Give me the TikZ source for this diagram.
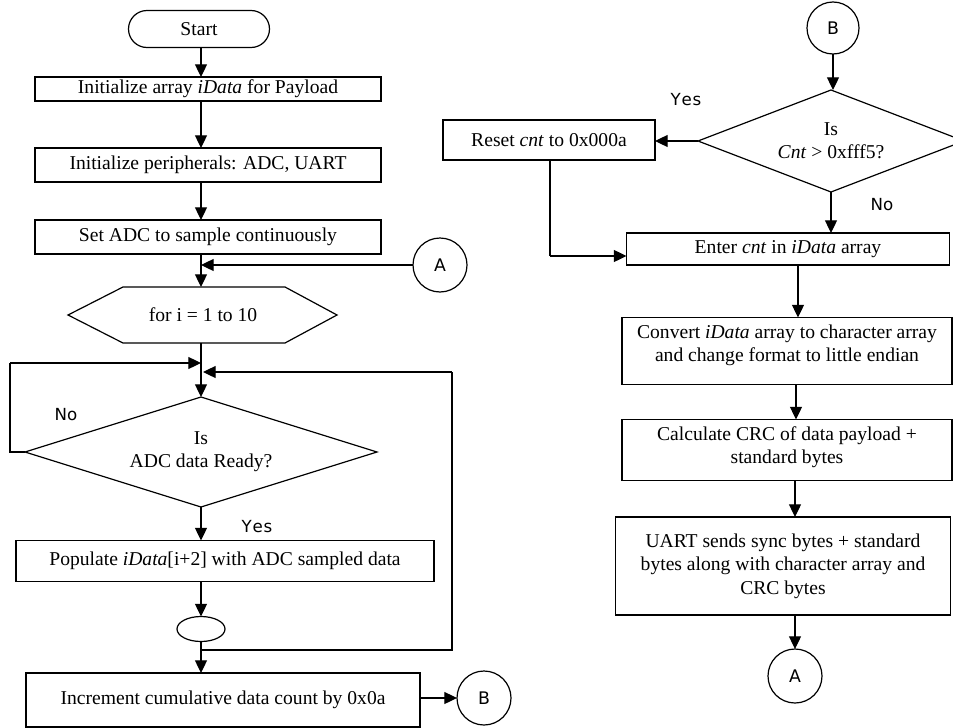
\documentclass[tikz,border=0pt]{standalone}
\usepackage{fontspec}
\setmainfont{Liberation Serif}
\newfontfamily\lblfont{DejaVu Sans}
\usetikzlibrary{shapes.geometric,shapes.misc,arrows.meta}
\begin{document}
\begin{tikzpicture}[x=0.75pt,y=-0.75pt,
  every node/.style={inner sep=0pt, outer sep=0pt},
  txt/.style={font=\fontsize{14.7}{17.5}\selectfont, align=center},
  sz/.style 2 args={minimum width=#1*0.75pt, minimum height=#2*0.75pt},
  pbox/.style={draw, rectangle, line width=0.9pt, txt},
  conn/.style={draw, circle, line width=0.9pt, minimum size=54*0.75pt, font=\lblfont\fontsize{13}{15}\selectfont},
  lbl/.style={font=\lblfont\fontsize{12.5}{15}\selectfont},
  ln/.style={line width=0.9pt},
  arr/.style={line width=0.9pt, -{Triangle[length=9.5pt,width=9pt]}}
]
\useasboundingbox (0,0) rectangle (953,728);

% ---------- left column ----------
\node[draw, rounded rectangle, line width=0.9pt, sz={141}{37}, txt] (start) at (199,29) {Start};
\node[pbox, sz={346}{24}] (b1) at (208,89) {Initialize array \textit{iData} for Payload};
\node[pbox, sz={346}{34}] (b2) at (208,165) {Initialize peripherals: ADC, UART};
\node[pbox, sz={346}{34}] (b3) at (208,237) {Set ADC to sample continuously};
\node[conn] (A1) at (440,265) {A};
\node[txt] (hex) at (203,315) {for i = 1 to 10};
\draw[ln] (68,315) -- (123,287) -- (285,287) -- (337,315) -- (285,343) -- (123,343) -- cycle;
\node[draw, diamond, aspect=3.2, line width=0.9pt, sz={352}{110}, txt] (d1) at (201,452) {Is\\ADC data Ready?};
\node[pbox, sz={418}{41}] (b4) at (225,561) {Populate \textit{iData}[i+2] with ADC sampled data};
\node[draw, ellipse, line width=0.9pt, sz={48}{25}] (ell) at (201,629) {};
\node[pbox, sz={394}{54}] (b5) at (223,700) {Increment cumulative data count by 0x0a};
\node[conn] (B1) at (484,698) {B};

\node[lbl] (no1) at (66,415) {No};
\node[lbl] (yes1) at (257,527) {Y\kern0.6pt e\kern0.6pt s};

\coordinate (xl) at (201,0);
\coordinate (hexN) at (201,287);
\coordinate (hexS) at (201,343);
\coordinate (axNo) at (201,363);
\coordinate (axRet) at (203,372);
\coordinate (junc) at (201,650);
\coordinate (lft) at (10,452);
\coordinate (lftT) at (10,363);
\coordinate (rgt) at (452,650);
\coordinate (rgtT) at (452,372);

\draw[arr] (start.south -| xl) -- (b1.north -| xl);
\draw[arr] (b1.south -| xl) -- (b2.north -| xl);
\draw[arr] (b2.south -| xl) -- (b3.north -| xl);
\draw[arr] (b3.south -| xl) -- (hexN);
\draw[arr] (A1.west) -- (A1.west -| xl);
\draw[arr] (hexS) -- (d1.north);
\draw[ln] (d1.west) -- (lft) -- (lftT);
\draw[arr] (lftT) -- (axNo);
\draw[arr] (d1.south) -- (b4.north -| d1.south);
\draw[arr] (b4.south -| xl) -- (ell.north);
\draw[arr] (ell.south) -- (b5.north -| ell.south);
\draw[ln] (junc) -- (rgt) -- (rgtT);
\draw[arr] (rgtT) -- (axRet);
\draw[arr] (b5.east |- B1.west) -- (B1.west);

% ---------- right column ----------
\node[conn, minimum size=52*0.75pt] (B2) at (833,28) {B};
\node[draw, diamond, aspect=2.6, line width=0.9pt, sz={266}{102}, txt] (d2) at (831,141) {Is\\\textit{Cnt} > 0xfff5?};
\node[pbox, sz={212}{40}] (reset) at (549,140) {Reset \textit{cnt} to 0x000a};
\node[pbox, sz={323}{32}] (enter) at (788,249) {Enter \textit{cnt} in \textit{iData} array};
\node[draw, rectangle, line width=0.9pt, sz={330}{67}] (conv) at (787,351) {};
\node[txt] (convT) at (787,345) {Convert \textit{iData} array to character array\\and change format to little endian};
\node[pbox, sz={330}{61}] (calc) at (787,450) {};
\node[txt] (calcT) at (787,447) {Calculate CRC of data payload +\\standard bytes};
\node[pbox, sz={335}{98}] (uart) at (783,566) {UART sends sync bytes + standard\\bytes along with character array and\\CRC bytes};
\node[conn] (A2) at (795,676) {A};

\node[lbl] (yes2) at (686,100) {Y\kern0.6pt e\kern0.6pt s};
\node[lbl] (no2) at (882,205) {No};

\coordinate (rcorner) at (550,256);
\coordinate (xr1) at (798,0);
\coordinate (xr2) at (796,0);
\coordinate (xr3) at (795,0);

\draw[arr] (B2.south) -- (d2.north -| B2.south);
\draw[arr] (d2.west) -- (reset.east |- d2.west);
\draw[arr] (d2.south) -- (enter.north -| d2.south);
\draw[ln] (reset.south -| rcorner) -- (rcorner);
\draw[arr] (rcorner) -- (enter.west |- rcorner);
\draw[arr] (enter.south -| xr1) -- (conv.north -| xr1);
\draw[arr] (conv.south -| xr2) -- (calc.north -| xr2);
\draw[arr] (calc.south -| xr3) -- (uart.north -| xr3);
\draw[arr] (uart.south -| xr3) -- (A2.north);
\end{tikzpicture}
\end{document}
